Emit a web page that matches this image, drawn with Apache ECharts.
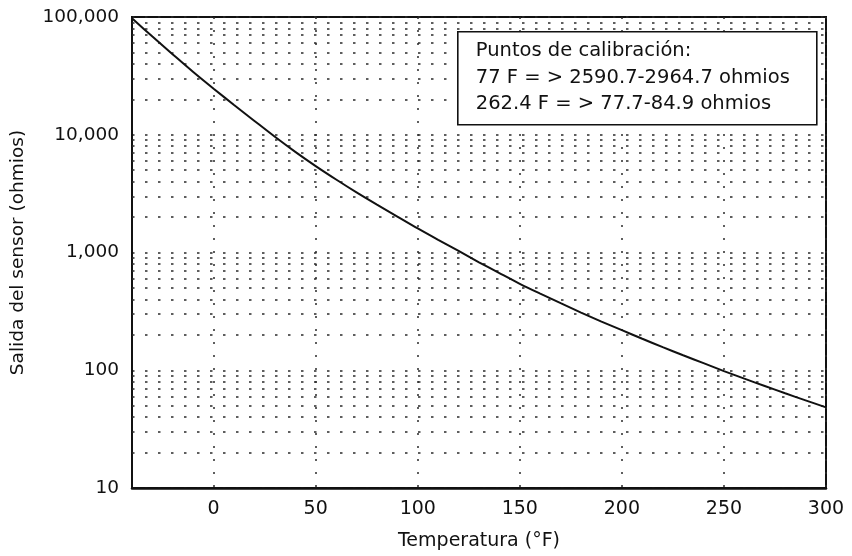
<!DOCTYPE html>
<html>
<head>
<meta charset="utf-8">
<script src="https://cdn.jsdelivr.net/npm/echarts@6/dist/echarts.min.js"></script>
<style>
  html, body { margin: 0; padding: 0; background: #fff; }
  #chart { width: 852px; height: 556px; }
</style>
</head>
<body>
<div id="chart"></div>
<script>
// Sensor resistance (ohms) against temperature (°F)
const temperatures = [-40, -30, -20, -10, 0, 10, 20, 30, 40, 50, 60, 70, 80, 90, 100,
  110, 120, 130, 140, 150, 160, 170, 180, 190, 200, 210, 220, 230, 240, 250,
  260, 270, 280, 290, 300];
const resistance = [97500, 68200, 48100, 34100, 24600, 17900, 13100, 9610, 7160, 5420,
  4170, 3240, 2550, 2020, 1600, 1280, 1030, 826, 668, 542, 447, 371, 309, 259, 219,
  185, 157, 134, 115, 98.4, 84.9, 73.5, 63.7, 55.5, 48.4];

// Axis ranges and the minor (2..9 per decade) grid values on the log axis
const xRange = [-40, 300];
const yRange = [10, 100000];
const decades = [10, 100, 1000, 10000];
const minorMultipliers = [2, 3, 4, 5, 6, 7, 8, 9];
const minorGridValues = [];
decades.forEach(d => minorMultipliers.forEach(m => minorGridValues.push(d * m)));

const noteLines = [
  'Puntos de calibración:',
  '77 F = > 2590.7-2964.7 ohmios',
  '262.4 F = > 77.7-84.9 ohmios'
];

const FONT = '"DejaVu Sans", "Liberation Sans", Arial, sans-serif';
const dotted = { color: '#2a2a2a', width: 1.5, type: [2.5, 10.5] };

const chart = echarts.init(document.getElementById('chart'), null, { renderer: 'canvas' });

chart.setOption({
  animation: false,
  backgroundColor: '#fff',
  grid: {
    left: 132, right: 26, top: 17, bottom: 66,
    show: true, borderColor: '#111', borderWidth: 2, backgroundColor: 'transparent'
  },
  xAxis: {
    type: 'value',
    min: xRange[0], max: xRange[1],
    splitNumber: 7,
    name: 'Temperatura (°F)',
    nameLocation: 'middle',
    nameGap: 44,
    nameTextStyle: { fontFamily: FONT, fontSize: 19, color: '#111' },
    axisLine: { show: true, onZero: false, lineStyle: { color: '#111', width: 2.5 } },
    axisTick: { show: false },
    axisLabel: {
      fontFamily: FONT, fontSize: 19, color: '#111', margin: 12,
      showMinLabel: false,
      formatter: v => (v < 0 ? '' : String(v))
    },
    splitLine: {
      show: true,
      lineStyle: { color: '#2a2a2a', width: 1.5, type: [2, 11] }
    }
  },
  yAxis: {
    type: 'log',
    logBase: 10,
    min: yRange[0], max: yRange[1],
    name: 'Salida del sensor (ohmios)',
    nameLocation: 'middle',
    nameGap: 104,
    nameRotate: 90,
    nameTextStyle: { fontFamily: FONT, fontSize: 18.5, color: '#111' },
    axisLine: { show: true, onZero: false, lineStyle: { color: '#111', width: 2 } },
    axisTick: { show: false },
    axisLabel: {
      fontFamily: FONT, fontSize: 18.5, color: '#111', margin: 13,
      formatter: v => Math.round(v).toLocaleString('en-US')
    },
    splitLine: { show: true, lineStyle: dotted }
  },
  series: [
    {
      // minor log grid
      type: 'line',
      data: [],
      silent: true,
      z: 1,
      markLine: {
        silent: true,
        symbol: ['none', 'none'],
        label: { show: false },
        lineStyle: dotted,
        emphasis: { disabled: true },
        data: minorGridValues.map(v => ({ yAxis: v }))
      }
    },
    {
      name: 'Salida',
      type: 'line',
      z: 5,
      smooth: 0.3,
      showSymbol: false,
      lineStyle: { color: '#111', width: 2 },
      data: temperatures.map((t, i) => [t, resistance[i]])
    }
  ],
  graphic: [
    {
      type: 'group',
      left: 457,
      top: 31,
      z: 100,
      children: [
        {
          type: 'rect',
          z: 100,
          shape: { x: 0, y: 0, width: 359, height: 93 },
          style: { fill: '#fff', stroke: '#111', lineWidth: 1.6 }
        },
        {
          type: 'text',
          z: 101,
          x: 18,
          y: 6,
          style: {
            text: noteLines.join('\n'),
            fontFamily: FONT,
            fontSize: 19.5,
            lineHeight: 26.5,
            fill: '#111'
          }
        }
      ]
    }
  ]
});
</script>
</body>
</html>
